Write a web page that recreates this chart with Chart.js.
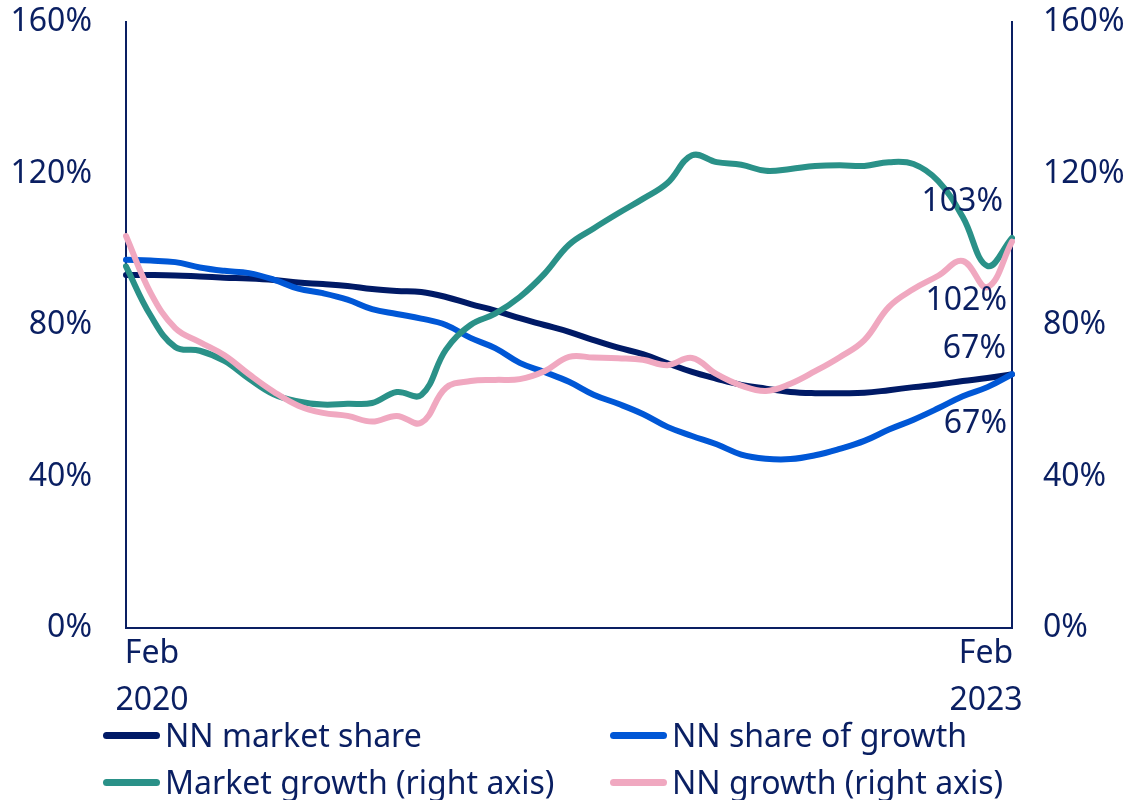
<!DOCTYPE html>
<html>
<head>
<meta charset="utf-8">
<title>NN market share and growth</title>
<script src="https://cdn.jsdelivr.net/npm/chart.js@4.4.1/dist/chart.umd.min.js"></script>
<style>
    html, body { margin: 0; padding: 0; background: #ffffff; }
    #wrap { position: relative; width: 1128px; height: 800px; }
    #chart { display: block; }
    .legend { position: absolute; left: 0; top: 0; width: 1128px; height: 800px; pointer-events: none;
        font-family: "Noto Sans", sans-serif; font-size: 32px; color: #0a1f62; }
    .legend .item { position: absolute; display: flex; align-items: center; white-space: nowrap; line-height: 1; }
    .legend .swatch { display: inline-block; width: 57px; height: 7px; border-radius: 4px; margin-right: 5px; }
</style>
</head>
<body>
<div id="wrap">
    <canvas id="chart" width="1128" height="800"></canvas>
    <div class="legend" id="legend"></div>
</div>
<script>
// Monthly observations, Feb 2020 .. Feb 2023
const months = [
    "Feb 2020", "Mar 2020", "Apr 2020", "May 2020", "Jun 2020", "Jul 2020", "Aug 2020", "Sep 2020", "Oct 2020", "Nov 2020", "Dec 2020",
    "Jan 2021", "Feb 2021", "Mar 2021", "Apr 2021", "May 2021", "Jun 2021", "Jul 2021", "Aug 2021", "Sep 2021", "Oct 2021", "Nov 2021", "Dec 2021",
    "Jan 2022", "Feb 2022", "Mar 2022", "Apr 2022", "May 2022", "Jun 2022", "Jul 2022", "Aug 2022", "Sep 2022", "Oct 2022", "Nov 2022", "Dec 2022",
    "Jan 2023", "Feb 2023"
];

// left axis (%)
const nnMarketShare = [
    93.2, 93.2, 93.1, 92.8, 92.5, 92.3, 91.9, 91.2, 90.8, 90.3, 89.5, 89.0, 88.7,
    87.4, 85.5, 83.8, 81.8, 80.0, 78.2, 76.0, 74.0, 72.3, 69.9, 67.6, 65.8, 64.2,
    63.2, 62.3, 62.0, 62.0, 62.1, 62.8, 63.6, 64.3, 65.2, 66.0, 67
];
const nnShareOfGrowth = [
    97.2, 97.0, 96.6, 95.2, 94.3, 93.7, 92.0, 89.6, 88.4, 86.7, 84.2, 82.9, 81.7,
    80.0, 76.6, 73.9, 70.0, 67.6, 65.0, 61.6, 59.2, 56.5, 53.1, 50.7, 48.5, 45.8,
    44.7, 44.6, 45.6, 47.3, 49.4, 52.4, 55.0, 58.0, 61.2, 63.6, 67
];

// right axis (%)
const marketGrowth = [
    95.5, 82.5, 74.2, 73.2, 70.5, 65.8, 61.7, 59.8, 59.0, 59.2, 59.4, 62.3, 61.5,
    73.5, 80.0, 83.0, 87.4, 93.5, 101.2, 105.5, 109.5, 113.3, 117.5, 124.8, 123.0, 122.3,
    120.7, 121.2, 122.0, 122.2, 122.0, 123.0, 122.5, 118.0, 108.5, 95.6, 103
];
const nnGrowth = [
    103.5, 88.5, 79.2, 75.5, 72.0, 67.0, 62.4, 58.7, 56.8, 56.0, 54.5, 56.0, 54.2,
    63.4, 65.2, 65.5, 65.7, 67.8, 71.6, 71.4, 71.2, 70.8, 69.4, 71.3, 67.0, 64.0,
    62.6, 64.5, 67.8, 71.5, 76.0, 84.8, 89.5, 93.0, 96.9, 90.0, 102
];

const yTicks = [0, 40, 80, 120, 160];
const firstLabel = ["Feb", "2020"];
const lastLabel = ["Feb", "2023"];

const INK = "#0a1f62";
const FONT = '"Noto Sans", sans-serif';

const series = [
    { label: "NN market share", data: nnMarketShare, color: "#001a66", axis: "y", order: 3, tag: { dx: -6, dy: -25 } },
    { label: "NN share of growth", data: nnShareOfGrowth, color: "#0057d6", axis: "y", order: 2, tag: { dx: -5, dy: 50 } },
    { label: "Market growth (right axis)", data: marketGrowth, color: "#2a9188", axis: "y1", order: 1, tag: { dx: -9, dy: -36 } },
    { label: "NN growth (right axis)", data: nnGrowth, color: "#f0a8c0", axis: "y1", order: 0, tag: { dx: -5, dy: 59 } },
];

// first / last month captions, set in from the axis ends
const edgeLabels = {
    id: "edgeLabels",
    afterDraw(chart) {
        const x = chart.scales.x;
        const ctx = chart.ctx;
        const bottom = chart.chartArea.bottom;
        const inset = 26;
        ctx.save();
        ctx.font = "32px " + FONT;
        ctx.fillStyle = INK;
        ctx.textAlign = "center";
        ctx.textBaseline = "alphabetic";
        const x0 = x.getPixelForValue(0) + inset;
        const x1 = x.getPixelForValue(months.length - 1) - inset;
        [[firstLabel, x0], [lastLabel, x1]].forEach(([lines, px]) => {
            lines.forEach((t, i) => ctx.fillText(t, px, bottom + 35 + i * 47));
        });
        ctx.restore();
    },
};

// value tags next to the last point of each line
const endTags = {
    id: "endTags",
    afterDatasetsDraw(chart) {
        const ctx = chart.ctx;
        ctx.save();
        ctx.font = "32px " + FONT;
        ctx.fillStyle = INK;
        ctx.textAlign = "right";
        ctx.textBaseline = "middle";
        chart.data.datasets.forEach((ds, i) => {
            const meta = chart.getDatasetMeta(i);
            const pt = meta.data[meta.data.length - 1];
            if (!pt) return;
            const v = ds.data[ds.data.length - 1];
            ctx.fillText(Math.round(v) + "%", pt.x + ds.tag.dx, pt.y + ds.tag.dy);
        });
        ctx.restore();
    },
};

function yAxis(position, width, padding) {
    return {
        position,
        min: 0,
        max: 160,
        afterBuildTicks: (s) => { s.ticks = yTicks.map((v) => ({ value: v })); },
        afterFit: (s) => {
            s.width = width;
            // the wide label gap shouldn't push the plot edges in
            s.paddingTop = 0;
            s.paddingBottom = 0;
        },
        grid: { display: false, drawTicks: true, tickLength: 8 },
        border: { display: true, color: "#0a1f62", width: 2 },
        ticks: {
            color: INK,
            padding,
            font: { family: FONT, size: 32 },
            callback: (v) => v + "%",
        },
    };
}

new Chart(document.getElementById("chart"), {
    type: "line",
    data: {
        labels: months,
        datasets: series.map((s) => ({
            label: s.label,
            data: s.data,
            yAxisID: s.axis,
            order: s.order,
            borderColor: s.color,
            backgroundColor: s.color,
            borderWidth: 6,
            borderCapStyle: "round",
            borderJoinStyle: "round",
            pointRadius: 0,
            tension: 0.4,
            fill: false,
            tag: s.tag,
        })),
    },
    plugins: [edgeLabels, endTags],
    options: {
        responsive: false,
        animation: false,
        layout: { padding: { top: 22, bottom: 82, left: 0, right: 0 } },
        plugins: {
            legend: { display: false },
            tooltip: { enabled: false },
        },
        scales: {
            x: {
                type: "category",
                offset: false,
                afterFit: (s) => { s.height = 90; },
                grid: { display: false },
                border: { display: true, color: "#0a1f62", width: 2 },
                ticks: { display: false },
            },
            y: yAxis("left", 126, 26),
            y1: yAxis("right", 116, 23),
        },
    },
});

// two-column legend under the plot
const legendSlots = [
    { left: 103, top: 735 },
    { left: 610, top: 735 },
    { left: 103, top: 782 },
    { left: 610, top: 782 },
];
const legendEl = document.getElementById("legend");
series.forEach((s, i) => {
    const item = document.createElement("div");
    item.className = "item";
    item.style.left = legendSlots[i].left + "px";
    item.style.top = (legendSlots[i].top - 16) + "px";
    item.style.height = "32px";
    const sw = document.createElement("span");
    sw.className = "swatch";
    sw.style.background = s.color;
    const tx = document.createElement("span");
    tx.textContent = s.label;
    item.appendChild(sw);
    item.appendChild(tx);
    legendEl.appendChild(item);
});
</script>
</body>
</html>
